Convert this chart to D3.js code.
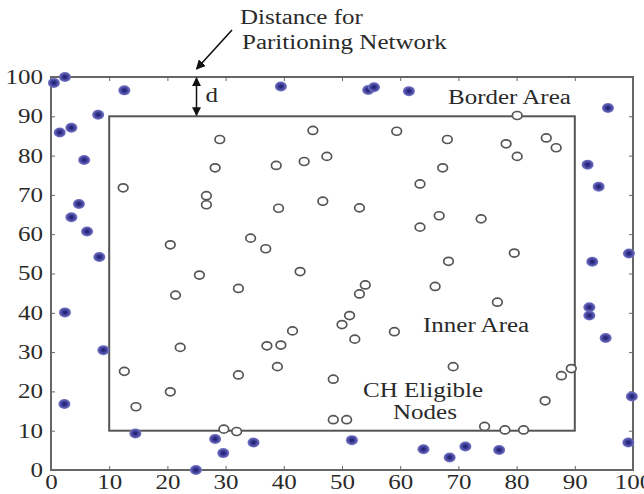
<!DOCTYPE html>
<html>
<head>
<meta charset="utf-8">
<script src="https://cdn.jsdelivr.net/npm/d3@7"></script>
<style>
  body { margin: 0; background: #fff; }
  text { font-family: "Liberation Serif", "Times New Roman", serif; fill: #2a2a2a; }
</style>
</head>
<body>
<div id="chart"></div>
<script>
// border nodes (filled blue)
const borderX = [0.5, 2.4, 12.6, 8.1, 1.5, 3.5, 5.7, 4.8, 3.5, 6.2, 8.3, 2.4, 9.0, 2.3, 14.5, 24.9, 28.2, 29.6, 34.8, 51.7,
                 64.0, 68.5, 71.2, 77.0, 99.2, 99.8, 95.3, 92.5, 92.5, 93.0, 99.3, 94.1, 92.2, 95.7, 39.5, 54.5, 55.5, 61.5];
const borderY = [98.5, 100, 96.6, 90.4, 85.9, 87.1, 78.9, 67.7, 64.3, 60.7, 54.2, 40.1, 30.5, 16.8, 9.3, 0, 7.9, 4.3, 7.0, 7.6,
                 5.3, 3.2, 6.0, 5.1, 7.0, 18.7, 33.6, 41.4, 39.3, 53.0, 55.1, 72.1, 77.7, 92.1, 97.6, 96.7, 97.4, 96.4];
// CH eligible nodes (open circles)
const innerX = [12.4, 20.5, 25.5, 26.7, 26.7, 28.2, 29.0, 21.4, 22.2, 12.6, 20.5, 14.6, 45.0, 59.4, 38.7, 43.5, 47.4, 39.1, 46.7, 53.0,
                34.3, 36.9, 42.8, 63.4, 63.4, 68.1, 67.3, 66.7, 73.9, 68.3, 79.6, 78.2, 80.1, 85.1, 86.8, 80.1, 32.2, 53.0, 54.0, 51.3,
                50.0, 52.2, 41.5, 37.1, 39.5, 38.9, 32.2, 59.0, 48.5, 48.5, 50.8, 29.7, 31.9, 66.0, 76.7, 69.1, 87.7, 89.4, 84.9, 74.5,
                78.0, 81.2];
const innerY = [71.8, 57.3, 49.6, 69.8, 67.5, 76.9, 84.1, 44.5, 31.2, 25.1, 19.9, 16.1, 86.4, 86.2, 77.5, 78.5, 79.8, 66.6, 68.4, 66.7,
                59.0, 56.3, 50.5, 72.8, 61.8, 84.1, 76.9, 64.7, 63.9, 53.1, 55.2, 83.0, 79.8, 84.5, 82.0, 90.2, 46.2, 44.8, 47.1, 39.3,
                37.0, 33.3, 35.4, 31.6, 31.8, 26.3, 24.2, 35.2, 23.1, 12.8, 12.8, 10.4, 9.8, 46.7, 42.7, 26.3, 24.0, 25.8, 17.6, 11.1,
                10.2, 10.2];
const tickValues = [0, 10, 20, 30, 40, 50, 60, 70, 80, 90, 100];
const innerBox = [10, 90];
const dMark = 25; // x position of the "d" marker

const margin = {top: 77, right: 11, bottom: 24, left: 51},
      width = 644 - margin.left - margin.right,
      height = 494 - margin.top - margin.bottom;
const stretchX = 1.25; // the source picture is wider than tall

const svg = d3.select("#chart").append("svg")
    .attr("width", 644).attr("height", 494);

// widen the serif glyphs like in the source
function stretch(sel) {
    sel.each(function() {
        const w = this.getComputedTextLength();
        d3.select(this).attr("textLength", w * stretchX).attr("lengthAdjust", "spacingAndGlyphs");
    });
}

const defs = svg.append("defs");
const grad = defs.append("radialGradient").attr("id", "blueDot");
grad.append("stop").attr("offset", "0%").attr("stop-color", "#1c1c66");
grad.append("stop").attr("offset", "45%").attr("stop-color", "#3a3a96");
grad.append("stop").attr("offset", "100%").attr("stop-color", "#7878c6");
defs.append("marker").attr("id", "arr")
    .attr("viewBox", "0 0 10 10").attr("refX", 9).attr("refY", 5)
    .attr("markerWidth", 6).attr("markerHeight", 6).attr("orient", "auto-start-reverse")
    .append("path").attr("d", "M0,0 L10,5 L0,10 z").attr("fill", "#111");

const g = svg.append("g").attr("transform", `translate(${margin.left},${margin.top})`);

const x = d3.scaleLinear().domain([0, 100]).range([0, width]);
const y = d3.scaleLinear().domain([0, 100]).range([height, 0]);

// axes (ticks inside, matlab style)
const styleAxis = sel => {
    sel.select(".domain").remove();
    sel.selectAll(".tick line").attr("stroke", "#666");
    sel.selectAll(".tick text").style("font-size", "20px").attr("fill", "#333");
};
const xAxis = g.append("g").attr("transform", `translate(0,${height})`)
    .call(d3.axisBottom(x).tickValues(tickValues).tickSize(-4).tickPadding(3))
    .call(styleAxis);
xAxis.selectAll(".tick text").attr("dy", "0.8em");
const yAxis = g.append("g")
    .call(d3.axisLeft(y).tickValues(tickValues).tickSize(-4).tickPadding(8))
    .call(styleAxis);
g.append("g")
    .call(d3.axisTop(x).tickValues(tickValues).tickSize(-4).tickFormat(""))
    .call(styleAxis);
g.append("g").attr("transform", `translate(${width},0)`)
    .call(d3.axisRight(y).tickValues(tickValues).tickSize(-4).tickFormat(""))
    .call(styleAxis);
stretch(xAxis.selectAll(".tick text"));
stretch(yAxis.selectAll(".tick text"));

// frame
g.append("rect").attr("width", width).attr("height", height)
    .attr("fill", "none").attr("stroke", "#666").attr("stroke-width", 2);

// inner area
g.append("rect")
    .attr("x", x(innerBox[0])).attr("y", y(innerBox[1]))
    .attr("width", x(innerBox[1]) - x(innerBox[0]))
    .attr("height", y(innerBox[0]) - y(innerBox[1]))
    .attr("fill", "none").attr("stroke", "#555").attr("stroke-width", 2);

// open circles
g.selectAll(".inner").data(innerX).enter().append("ellipse")
    .attr("class", "inner")
    .attr("cx", d => x(d))
    .attr("cy", (d, i) => y(innerY[i]))
    .attr("rx", 4.8).attr("ry", 4.0)
    .attr("fill", "#fff").attr("stroke", "#555").attr("stroke-width", 1.7);

// border nodes
g.selectAll(".border").data(borderX).enter().append("ellipse")
    .attr("class", "border")
    .attr("cx", d => x(d))
    .attr("cy", (d, i) => y(borderY[i]))
    .attr("rx", 6).attr("ry", 5)
    .attr("fill", "url(#blueDot)");

// d marker
g.append("line")
    .attr("x1", x(dMark)).attr("x2", x(dMark))
    .attr("y1", y(100) + 1).attr("y2", y(90) - 1)
    .attr("stroke", "#111").attr("stroke-width", 1.5)
    .attr("marker-start", "url(#arr)").attr("marker-end", "url(#arr)");
stretch(g.append("text").attr("x", x(dMark) + 9).attr("y", y(93.7))
    .style("font-size", "20px").text("d"));

// arrow to the partition distance
svg.append("line")
    .attr("x1", 232).attr("y1", 30).attr("x2", x(dMark) + margin.left).attr("y2", 69)
    .attr("stroke", "#111").attr("stroke-width", 1.6)
    .attr("marker-end", "url(#arr)");

const labels = [
    {t: "Distance for", x: 240, y: 24, a: "start"},
    {t: "Paritioning Network", x: 242, y: 49, a: "start"},
    {t: "Border Area", x: 448, y: 104, a: "start"},
    {t: "Inner Area", x: 423, y: 332, a: "start"},
    {t: "CH Eligible", x: 363, y: 397, a: "start"},
    {t: "Nodes", x: 393, y: 419, a: "start"}
];
stretch(svg.selectAll(".lbl").data(labels).enter().append("text")
    .attr("class", "lbl")
    .attr("x", d => d.x).attr("y", d => d.y)
    .attr("text-anchor", d => d.a)
    .style("font-size", "20px")
    .text(d => d.t));
</script>
</body>
</html>
